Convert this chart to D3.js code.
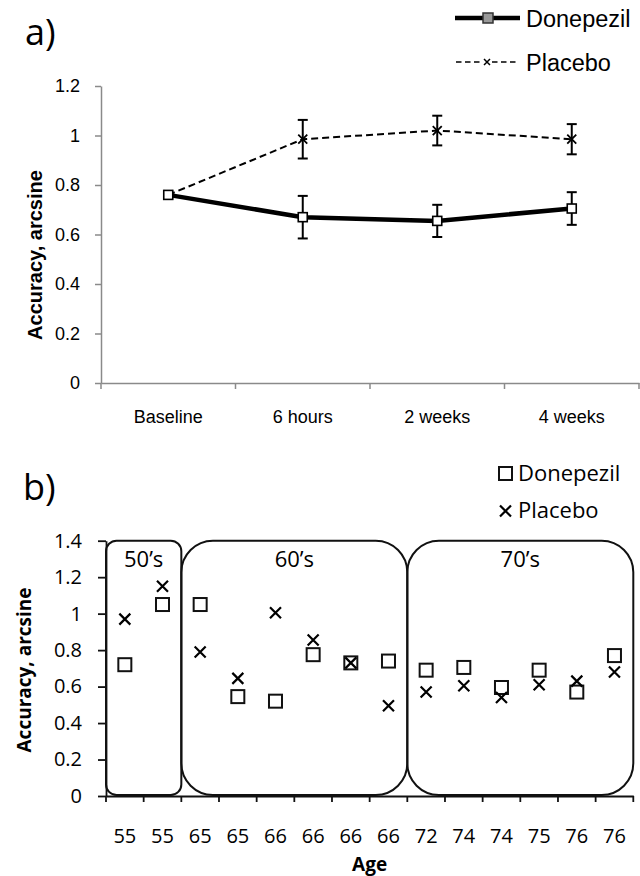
<!DOCTYPE html>
<html>
<head>
<meta charset="utf-8">
<script src="https://cdn.jsdelivr.net/npm/d3@7"></script>
<style>
  body { margin: 0; background: #fff; }
  svg { display: block; }
  .pa text { font-family: "Liberation Sans", Arial, sans-serif; fill: #000; }
  .pb text { font-family: "Open Sans", sans-serif; fill: #000; }
</style>
</head>
<body>
<div class="viz"></div>
<script>
// panel a: accuracy over time
const timepoints = ["Baseline", "6 hours", "2 weeks", "4 weeks"];
const donepezilMean = [0.76, 0.67, 0.655, 0.705];
const donepezilErr = [0, 0.086, 0.065, 0.066];
const placeboMean = [0.76, 0.985, 1.02, 0.985];
const placeboErr = [0, 0.078, 0.06, 0.061];
const ticksA = [0, 0.2, 0.4, 0.6, 0.8, 1, 1.2];

// panel b: accuracy by age
const ages = ["55", "55", "65", "65", "66", "66", "66", "66", "72", "74", "74", "75", "76", "76"];
const donepezilByAge = [0.72, 1.05, 1.05, 0.545, 0.52, 0.775, 0.73, 0.74, 0.69, 0.705, 0.595, 0.69, 0.57, 0.77];
const placeboByAge = [0.97, 1.15, 0.79, 0.645, 1.005, 0.855, 0.73, 0.495, 0.57, 0.605, 0.54, 0.61, 0.63, 0.68];
const decadeLabels = ["50\u2019s", "60\u2019s", "70\u2019s"];
const decadeCounts = [2, 6, 6];
const ticksB = [0, 0.2, 0.4, 0.6, 0.8, 1, 1.2, 1.4];

const svg = d3.select(".viz").append("svg")
  .attr("width", 640)
  .attr("height", 876);

/* ---------- panel a ---------- */
const ga = svg.append("g").attr("class", "pa");

const xA = d3.scaleBand().domain(timepoints).range([101, 639]);
const yA = d3.scaleLinear().domain([0, 1.2]).range([383, 86]);
const grey = "#8a8a8a";

const yAxisA = ga.append("g")
  .attr("transform", "translate(101,0)")
  .call(d3.axisLeft(yA).tickValues(ticksA).tickFormat(d3.format("~g"))
    .tickSize(6).tickSizeOuter(0).tickPadding(15));
yAxisA.selectAll("path, line").attr("stroke", grey).attr("stroke-width", 1.5);
yAxisA.selectAll("text").style("font-size", "18px");

const xAxisA = ga.append("g")
  .attr("transform", "translate(0,383)")
  .call(d3.axisBottom(xA).tickSize(0).tickSizeOuter(0).tickPadding(27));
xAxisA.select(".domain").attr("stroke", grey).attr("stroke-width", 1.5);
xAxisA.selectAll("text").style("font-size", "18px");

// category boundary ticks
const boundsA = timepoints.map(d => xA(d)).concat([xA.range()[1]]);
ga.append("g").selectAll("line")
  .data(boundsA)
  .enter().append("line")
  .attr("x1", d => d).attr("x2", d => d)
  .attr("y1", 383).attr("y2", 389)
  .attr("stroke", grey).attr("stroke-width", 1.5);

const cx = d => xA(d) + xA.bandwidth() / 2;

const pData = timepoints.map((t, i) => ({ t: t, m: placeboMean[i], e: placeboErr[i] }));
const dData = timepoints.map((t, i) => ({ t: t, m: donepezilMean[i], e: donepezilErr[i] }));

// placebo dashed line
ga.append("path")
  .datum(pData)
  .attr("fill", "none")
  .attr("stroke", "#000")
  .attr("stroke-width", 2)
  .attr("stroke-dasharray", "7,4")
  .attr("d", d3.line().x(d => cx(d.t)).y(d => yA(d.m)));

// donepezil thick line
ga.append("path")
  .datum(dData)
  .attr("fill", "none")
  .attr("stroke", "#000")
  .attr("stroke-width", 4.5)
  .attr("d", d3.line().x(d => cx(d.t)).y(d => yA(d.m)));

// error bars
function errorBars(g, data) {
  const eb = g.append("g").selectAll("g")
    .data(data.filter(d => d.e > 0))
    .enter().append("g")
    .attr("stroke", "#000").attr("stroke-width", 2);
  eb.append("line")
    .attr("x1", d => cx(d.t)).attr("x2", d => cx(d.t))
    .attr("y1", d => yA(d.m + d.e)).attr("y2", d => yA(d.m - d.e));
  eb.append("line")
    .attr("x1", d => cx(d.t) - 5).attr("x2", d => cx(d.t) + 5)
    .attr("y1", d => yA(d.m + d.e)).attr("y2", d => yA(d.m + d.e));
  eb.append("line")
    .attr("x1", d => cx(d.t) - 5).attr("x2", d => cx(d.t) + 5)
    .attr("y1", d => yA(d.m - d.e)).attr("y2", d => yA(d.m - d.e));
}
errorBars(ga, pData);
errorBars(ga, dData);

// markers
function cross(g, x, y, r, w) {
  g.append("path")
    .attr("d", `M${x - r},${y - r}L${x + r},${y + r}M${x - r},${y + r}L${x + r},${y - r}`)
    .attr("stroke", "#000").attr("stroke-width", w).attr("fill", "none");
}
pData.forEach(d => cross(ga, cx(d.t), yA(d.m), 4.5, 1.8));

ga.append("g").selectAll("rect")
  .data(dData)
  .enter().append("rect")
  .attr("x", d => cx(d.t) - 4.5)
  .attr("y", d => yA(d.m) - 4.5)
  .attr("width", 9).attr("height", 9)
  .attr("fill", "#fff")
  .attr("stroke", "#000").attr("stroke-width", 1.6);

// legend a
ga.append("line").attr("x1", 455).attr("x2", 520).attr("y1", 18).attr("y2", 18)
  .attr("stroke", "#000").attr("stroke-width", 4.5);
ga.append("rect").attr("x", 483).attr("y", 13).attr("width", 10).attr("height", 10)
  .attr("fill", "#999").attr("stroke", "#333").attr("stroke-width", 1.5);
ga.append("text").attr("x", 526).attr("y", 26.5).style("font-size", "23.5px").text("Donepezil");

ga.append("line").attr("x1", 456).attr("x2", 519).attr("y1", 62).attr("y2", 62)
  .attr("stroke", "#000").attr("stroke-width", 1.5).attr("stroke-dasharray", "5.5,3.5");
ga.append("rect").attr("x", 482).attr("y", 56).attr("width", 10).attr("height", 12).attr("fill", "#fff");
cross(ga, 487, 62, 3, 1.5);
ga.append("text").attr("x", 526).attr("y", 70.5).style("font-size", "23.5px").text("Placebo");

ga.append("text").attr("x", 25).attr("y", 45)
  .style("font-family", "'Open Sans', sans-serif").style("font-size", "36px").text("a)");

ga.append("text")
  .attr("transform", "translate(42,255) rotate(-90)")
  .attr("text-anchor", "middle")
  .style("font-size", "20px").style("font-weight", "bold")
  .text("Accuracy, arcsine");

/* ---------- panel b ---------- */
const gb = svg.append("g").attr("class", "pb");

const xB = d3.scaleBand().domain(d3.range(ages.length)).range([106, 633.3]);
const yB = d3.scaleLinear().domain([0, 1.4]).range([796, 540.7]);

const yAxisB = gb.append("g")
  .attr("transform", "translate(106,0)")
  .call(d3.axisLeft(yB).tickValues(ticksB).tickFormat(d3.format("~g"))
    .tickSize(8).tickSizeOuter(0).tickPadding(16));
yAxisB.selectAll("path, line").attr("stroke", "#111").attr("stroke-width", 1.8);
yAxisB.selectAll("text").style("font-size", "20px");

const xAxisB = gb.append("g")
  .attr("transform", "translate(0,796)")
  .call(d3.axisBottom(xB).tickFormat(i => ages[i]).tickSize(0).tickSizeOuter(0).tickPadding(33));
xAxisB.select(".domain").attr("stroke", "#111").attr("stroke-width", 1.8);
xAxisB.selectAll("text").style("font-size", "20px");

const boundsB = d3.range(ages.length).map(i => xB(i)).concat([xB.range()[1]]);
gb.append("g").selectAll("line")
  .data(boundsB)
  .enter().append("line")
  .attr("x1", d => d).attr("x2", d => d)
  .attr("y1", 796).attr("y2", 802)
  .attr("stroke", "#111").attr("stroke-width", 1.8);

// decade boxes
let start = 0;
const boxes = decadeLabels.map((lab, k) => {
  const b = { label: lab, x0: xB(start), x1: xB(start + decadeCounts[k] - 1) + xB.bandwidth() };
  start += decadeCounts[k];
  return b;
});
const boxTop = yB(1.4), boxBot = yB(0) - 1;
gb.append("g").selectAll("rect")
  .data(boxes)
  .enter().append("rect")
  .attr("x", d => d.x0).attr("y", boxTop)
  .attr("width", d => d.x1 - d.x0).attr("height", boxBot - boxTop)
  .attr("rx", d => 0.14 * Math.min(d.x1 - d.x0, boxBot - boxTop))
  .attr("fill", "none").attr("stroke", "#111").attr("stroke-width", 2);
gb.append("g").selectAll("text")
  .data(boxes)
  .enter().append("text")
  .attr("x", d => (d.x0 + d.x1) / 2).attr("y", 567)
  .attr("text-anchor", "middle")
  .style("font-size", "22px")
  .text(d => d.label);

const bx = i => xB(i) + xB.bandwidth() / 2;

gb.append("g").selectAll("rect")
  .data(donepezilByAge)
  .enter().append("rect")
  .attr("x", (d, i) => bx(i) - 6.5)
  .attr("y", d => yB(d) - 6.5)
  .attr("width", 13).attr("height", 13)
  .attr("fill", "none").attr("stroke", "#111").attr("stroke-width", 2);

placeboByAge.forEach((d, i) => cross(gb, bx(i), yB(d), 5.5, 2.2));

// legend b
gb.append("rect").attr("x", 499).attr("y", 467).attr("width", 13).attr("height", 13)
  .attr("fill", "none").attr("stroke", "#111").attr("stroke-width", 2);
gb.append("text").attr("x", 518).attr("y", 481).style("font-size", "22px").text("Donepezil");
cross(gb, 505.5, 511, 5.5, 2.2);
gb.append("text").attr("x", 518).attr("y", 518).style("font-size", "22px").text("Placebo");

gb.append("text").attr("x", 23).attr("y", 500).style("font-size", "36px").text("b)");

gb.append("text")
  .attr("transform", "translate(31,670) rotate(-90)")
  .attr("text-anchor", "middle")
  .style("font-size", "19px").style("font-weight", "bold")
  .text("Accuracy, arcsine");

gb.append("text")
  .attr("x", (xB.range()[0] + xB.range()[1]) / 2).attr("y", 871)
  .attr("text-anchor", "middle")
  .style("font-size", "19px").style("font-weight", "bold")
  .text("Age");
</script>
</body>
</html>
